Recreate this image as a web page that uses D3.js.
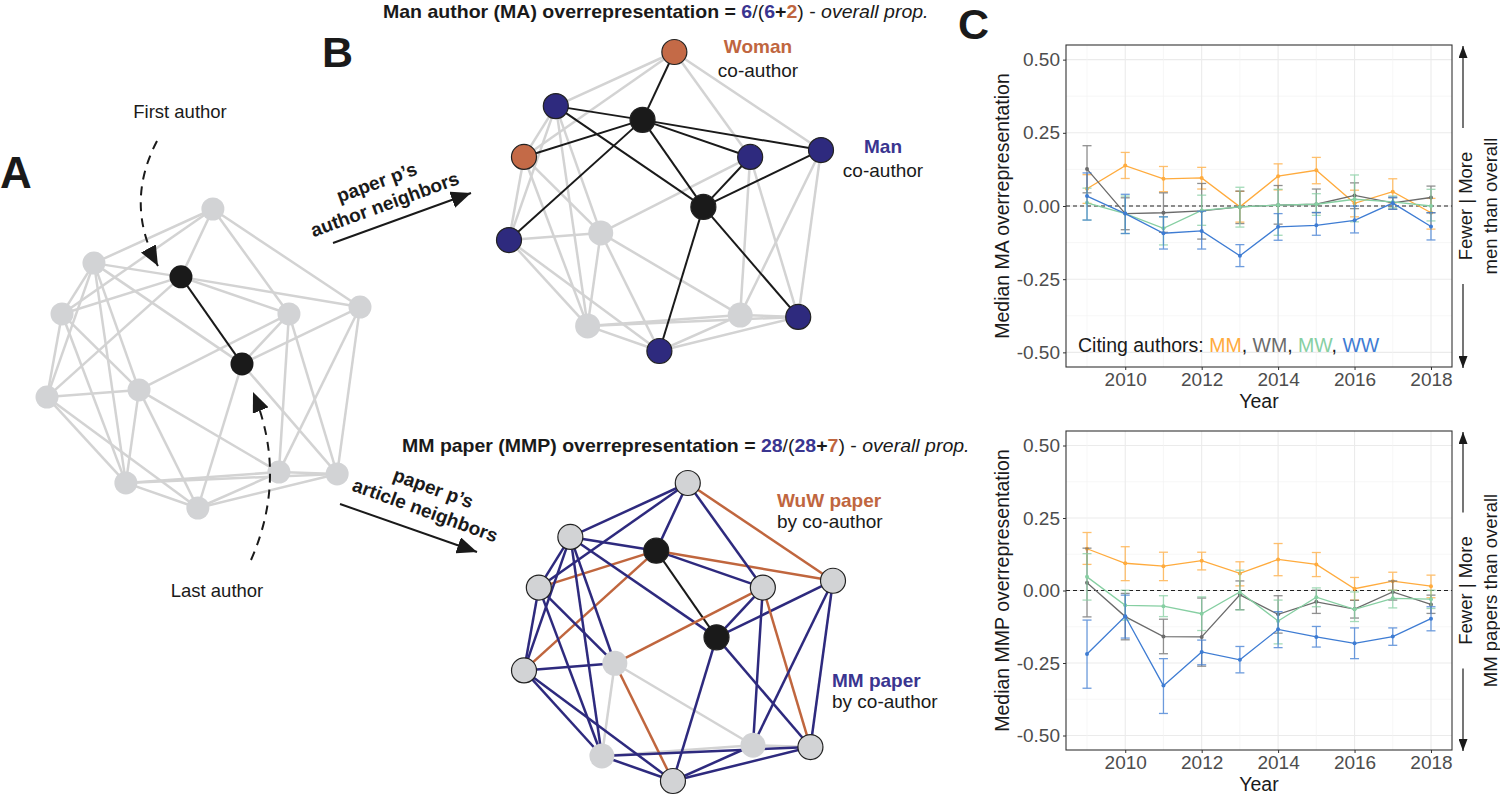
<!DOCTYPE html>
<html lang="en">
<head>
<meta charset="UTF-8" />
<title>Man author and MM paper overrepresentation</title>
<script src="https://cdn.jsdelivr.net/npm/d3@7"></script>
<style>
  body { margin: 0; background: #fff; }
  svg { display: block; font-family: "Liberation Sans", Arial, Helvetica, sans-serif; }
</style>
</head>
<body>
<div id="main_div"></div>
<script>
// ---------- panel C data ----------
const years = [2009, 2010, 2011, 2012, 2013, 2014, 2015, 2016, 2017, 2018];
const yTicks = [-0.5, -0.25, 0, 0.25, 0.5];
const xTicks = [2010, 2012, 2014, 2016, 2018];
const seriesNames = ["MM", "WM", "MW", "WW"];

// median MA overrepresentation (top) with error bar ends
const maMM   = [0.059, 0.138, 0.093, 0.096, -0.003, 0.102, 0.122, 0.009, 0.049, -0.023];
const maMMLo = [0.009, 0.094, 0.049, 0.058, -0.055, 0.055, 0.076, -0.037, 0.011, -0.079];
const maMMHi = [0.107, 0.183, 0.135, 0.132, 0.050, 0.144, 0.166, 0.054, 0.093, 0.026];
const maWM   = [0.126, -0.026, -0.023, -0.017, -0.003, 0.003, 0.006, 0.036, 0.011, 0.029];
const maWMLo = [0.045, -0.081, -0.090, -0.113, -0.060, -0.062, -0.023, -0.009, -0.011, -0.023];
const maWMHi = [0.206, 0.028, 0.045, 0.077, 0.051, 0.070, 0.058, 0.079, 0.028, 0.068];
const maMW   = [0.011, -0.026, -0.076, -0.015, -0.003, 0.003, 0.006, 0.023, 0.014, 0.000];
const maMWLo = [-0.048, -0.094, -0.133, -0.066, -0.072, -0.100, -0.032, -0.054, -0.006, -0.051];
const maMWHi = [0.061, 0.034, -0.037, 0.037, 0.064, 0.057, 0.042, 0.106, 0.034, 0.057];
const maWW   = [0.034, -0.026, -0.093, -0.085, -0.170, -0.071, -0.066, -0.049, 0.010, -0.070];
const maWWLo = [-0.048, -0.094, -0.147, -0.147, -0.207, -0.117, -0.100, -0.092, -0.011, -0.116];
const maWWHi = [0.113, 0.040, -0.037, -0.018, -0.132, -0.026, -0.022, 0.000, 0.030, -0.023];

// median MMP overrepresentation (bottom)
const mmpMM   = [0.144, 0.094, 0.084, 0.103, 0.059, 0.107, 0.090, 0.006, 0.032, 0.015];
const mmpMMLo = [0.090, 0.034, 0.034, 0.071, 0.016, 0.051, 0.048, -0.033, 0.001, -0.025];
const mmpMMHi = [0.200, 0.151, 0.132, 0.132, 0.099, 0.162, 0.131, 0.045, 0.063, 0.053];
const mmpWM   = [0.027, -0.090, -0.159, -0.160, -0.015, -0.082, -0.039, -0.064, -0.005, -0.048];
const mmpWMLo = [-0.091, -0.170, -0.218, -0.261, -0.066, -0.147, -0.079, -0.095, -0.033, -0.079];
const mmpWMHi = [0.146, -0.010, -0.099, -0.026, 0.033, -0.018, 0.001, -0.034, 0.033, -0.016];
const mmpMW   = [0.047, -0.051, -0.054, -0.080, -0.005, -0.105, -0.023, -0.065, -0.027, -0.030];
const mmpMWLo = [-0.033, -0.102, -0.090, -0.138, -0.067, -0.184, -0.056, -0.107, -0.060, -0.062];
const mmpMWHi = [0.127, 0.001, -0.018, -0.022, 0.070, -0.033, 0.009, -0.005, 0.001, 0.001];
const mmpWW   = [-0.219, -0.089, -0.328, -0.212, -0.239, -0.134, -0.160, -0.182, -0.159, -0.097];
const mmpWWLo = [-0.337, -0.164, -0.424, -0.256, -0.284, -0.197, -0.195, -0.235, -0.189, -0.139];
const mmpWWHi = [-0.102, -0.016, -0.235, -0.171, -0.193, -0.073, -0.124, -0.129, -0.129, -0.056];

// ---------- network data (panels A, B) ----------
// node layout in unit space, same graph drawn three times
const nodeU = [0.530, 0.150, 0.428, 0.048, 0.773, 1.000, 0.623, 0.000, 0.294, 0.252, 0.482, 0.741, 0.927];
const nodeV = [0.000, 0.181, 0.227, 0.351, 0.351, 0.328, 0.518, 0.629, 0.605, 0.916, 1.000, 0.880, 0.886];
// role of each node relative to paper p
const nodeRole = ["W", "M", "first", "W", "M", "M", "last", "M", "", "", "M", "", "M"];
const edges = [[2,0],[2,1],[2,3],[2,4],[2,5],[2,6],[2,7],[6,1],[6,4],[6,5],[6,10],[6,12],
               [0,1],[0,3],[0,4],[0,5],[1,3],[1,7],[1,8],[1,9],[3,7],[3,8],[3,9],[4,8],
               [4,11],[4,12],[5,11],[5,12],[7,8],[7,9],[7,10],[8,9],[8,10],[8,11],[9,10],
               [9,11],[9,12],[10,11],[10,12],[11,12]];
// paper type on each edge (for the article neighbor view)
const edgePaper = ["MM","MM","WuW","MM","WuW","FL","WuW","MM","MM","MM","MM","MM",
                   "MM","MM","MM","WuW","MM","MM","MM","MM","MM","MM","MM","WuW",
                   "MM","WuW","MM","MM","MM","MM","MM","","WuW","","MM",
                   "","MM","MM","MM",""];

const C = {
  navy: "#2e2a7e", rust: "#c0663e", grey: "#d3d3d3", node: "#d2d3d5", black: "#1a1a1a",
  MM: "#ffab3d", WM: "#6b6b6b", MW: "#86cfa2", WW: "#3e7cd3"
};

const svg = d3.select("#main_div").append("svg").attr("width", 1500).attr("height", 795);
const defs = svg.append("defs");

function addMarker(id, len, wid, color) {
  defs.append("marker")
      .attr("id", id)
      .attr("viewBox", "0 -5 10 10")
      .attr("refX", 10).attr("refY", 0)
      .attr("markerUnits", "userSpaceOnUse")
      .attr("markerWidth", len).attr("markerHeight", wid)
      .attr("preserveAspectRatio", "none")
      .attr("orient", "auto")
      .append("path").attr("d", "M0,-5L10,0L0,5Z").attr("fill", color);
}
addMarker("bigHead", 20, 17, C.black);
addMarker("smallHead", 12, 9, C.black);

// ---------- networks ----------
const views = [
  { x: [47, 360], y: [209, 508], r: 11.5, mode: "plain" },
  { x: [509, 821], y: [52, 351], r: 12.5, mode: "author" },
  { x: [524, 833], y: [483, 781], r: 12.5, mode: "article" }
];

function edgeColor(mode, i) {
  const [a, b] = edges[i];
  if (mode === "plain") return edgePaper[i] === "FL" ? C.black : C.grey;
  if (mode === "author") {
    const touch = ["first", "last"];
    return (touch.includes(nodeRole[a]) || touch.includes(nodeRole[b])) ? C.black : C.grey;
  }
  return { MM: C.navy, WuW: C.rust, FL: C.black, "": C.grey }[edgePaper[i]];
}

views.forEach(v => {
  const sx = d3.scaleLinear().domain([0, 1]).range(v.x);
  const sy = d3.scaleLinear().domain([0, 1]).range(v.y);
  const g = svg.append("g");
  const order = d3.range(edges.length).sort((i, j) => {
    const rank = c => (c === C.grey ? 0 : 1);
    return rank(edgeColor(v.mode, i)) - rank(edgeColor(v.mode, j));
  });
  g.selectAll("line.edge")
    .data(order)
    .enter().append("line")
    .attr("class", "edge")
    .attr("x1", i => sx(nodeU[edges[i][0]]))
    .attr("y1", i => sy(nodeV[edges[i][0]]))
    .attr("x2", i => sx(nodeU[edges[i][1]]))
    .attr("y2", i => sy(nodeV[edges[i][1]]))
    .attr("stroke", i => edgeColor(v.mode, i))
    .attr("stroke-width", i => edgeColor(v.mode, i) === C.black ? 2 : 2.5);

  g.selectAll("circle")
    .data(d3.range(nodeU.length))
    .enter().append("circle")
    .attr("cx", i => sx(nodeU[i]))
    .attr("cy", i => sy(nodeV[i]))
    .attr("r", v.r)
    .attr("fill", i => {
      const role = nodeRole[i];
      if (role === "first" || role === "last") return C.black;
      if (v.mode === "author" && role === "M") return C.navy;
      if (v.mode === "author" && role === "W") return "#c46a47";
      return C.node;
    })
    .attr("stroke", i => (v.mode !== "plain" && nodeRole[i] !== "") ? "#222" : "none")
    .attr("stroke-width", 1.2);
});

// ---------- network annotations ----------
const txt = (x, y, s, opts = {}) => svg.append("text")
  .attr("x", x).attr("y", y)
  .attr("font-size", opts.size || 19)
  .attr("font-weight", opts.weight || "normal")
  .attr("fill", opts.color || C.black)
  .attr("text-anchor", opts.anchor || "start")
  .text(s);

txt(0, 188, "A", { size: 44, weight: "bold" });
txt(322, 67, "B", { size: 43, weight: "bold" });
txt(958, 39, "C", { size: 43, weight: "bold" });

txt(180, 118, "First author", { size: 18.5, anchor: "middle" });
txt(217, 597, "Last author", { size: 18.5, anchor: "middle" });

svg.append("path")
  .attr("d", "M157,141 Q124,204 158,266")
  .attr("fill", "none").attr("stroke", C.black).attr("stroke-width", 2)
  .attr("stroke-dasharray", "9,7").attr("marker-end", "url(#bigHead)");
svg.append("path")
  .attr("d", "M251,560 Q288,476 253,392")
  .attr("fill", "none").attr("stroke", C.black).attr("stroke-width", 2)
  .attr("stroke-dasharray", "9,7").attr("marker-end", "url(#bigHead)");

// arrow labels
function arrowLabel(cx, cy, angle, lines, x1, y1, x2, y2) {
  const g = svg.append("g").attr("transform", `translate(${cx},${cy}) rotate(${angle})`);
  lines.forEach((s, k) => {
    g.append("text").attr("x", 0).attr("y", -6 + k * 23.5)
      .attr("text-anchor", "middle").attr("font-size", 19).attr("font-weight", "bold")
      .attr("fill", C.black).text(s);
  });
  svg.append("line").attr("x1", x1).attr("y1", y1).attr("x2", x2).attr("y2", y2)
    .attr("stroke", C.black).attr("stroke-width", 2).attr("marker-end", "url(#bigHead)");
}
arrowLabel(381, 194, -20, ["paper p\u2019s", "author neighbors"], 333, 243, 471, 193);
arrowLabel(429, 500, 20, ["paper p\u2019s", "article neighbors"], 340, 504, 477, 552);

// titles with coloured counts
function richTitle(x, y, width, parts) {
  const t = svg.append("text").attr("font-size", 18).attr("fill", C.black);
  parts.forEach(p => {
    t.append("tspan").text(p.t)
      .attr("fill", p.c || C.black)
      .attr("font-weight", p.b === false ? "normal" : "bold")
      .attr("font-style", p.i ? "italic" : "normal");
  });
  const k = width / t.node().getComputedTextLength();
  t.attr("transform", `translate(${x},${y}) scale(${k},1)`);
}
const titleBlue = "#3a3590", titleRust = "#c0663f";
richTitle(383, 18, 546, [
  { t: "Man author (MA) overrepresentation = " }, { t: "6", c: titleBlue }, { t: "/(", b: false },
  { t: "6", c: titleBlue }, { t: "+" }, { t: "2", c: titleRust }, { t: ") - ", b: false },
  { t: "overall prop.", b: false, i: true }
]);
richTitle(402, 452, 568, [
  { t: "MM paper (MMP) overrepresentation = " }, { t: "28", c: titleBlue }, { t: "/(", b: false },
  { t: "28", c: titleBlue }, { t: "+" }, { t: "7", c: titleRust }, { t: ") - ", b: false },
  { t: "overall prop.", b: false, i: true }
]);

txt(758, 53, "Woman", { weight: "bold", color: "#c0663f", anchor: "middle" });
txt(758, 77, "co-author", { anchor: "middle" });
txt(883, 153, "Man", { weight: "bold", color: "#3a3590", anchor: "middle" });
txt(883, 177, "co-author", { anchor: "middle" });
txt(777, 507, "WuW paper", { weight: "bold", color: "#c0663f" });
txt(777, 528, "by co-author");
txt(832, 687, "MM paper", { weight: "bold", color: "#3a3590" });
txt(832, 708, "by co-author");

// ---------- panel C ----------
function drawTrend(cfg) {
  const x = d3.scaleLinear().domain([2008.45, 2018.55]).range([1066, 1452]);
  const y = d3.scaleLinear().domain([-0.55, 0.55]).range([cfg.bottom, cfg.top]);
  const g = svg.append("g");
  const mid = (cfg.top + cfg.bottom) / 2;

  // grid
  const minorY = yTicks.slice(1).map((t, i) => (t + yTicks[i]) / 2);
  g.selectAll("line.gy").data(yTicks.concat(minorY)).enter().append("line")
    .attr("x1", 1066).attr("x2", 1452).attr("y1", d => y(d)).attr("y2", d => y(d))
    .attr("stroke", (d, i) => i < yTicks.length ? "#ebebeb" : "#f3f3f3")
    .attr("stroke-width", (d, i) => i < yTicks.length ? 1.1 : 0.7);
  g.selectAll("line.gx").data(years).enter().append("line")
    .attr("y1", cfg.top).attr("y2", cfg.bottom).attr("x1", d => x(d)).attr("x2", d => x(d))
    .attr("stroke", d => xTicks.includes(d) ? "#ebebeb" : "#f3f3f3")
    .attr("stroke-width", d => xTicks.includes(d) ? 1.1 : 0.7);

  // zero line
  g.append("line").attr("x1", 1066).attr("x2", 1452).attr("y1", y(0)).attr("y2", y(0))
    .attr("stroke", "#222").attr("stroke-width", 1.2).attr("stroke-dasharray", "4,3");

  // series
  cfg.series.forEach(s => {
    const col = C[s.name];
    const pts = years.map((yr, i) => ({ yr, v: s.v[i], lo: s.lo[i], hi: s.hi[i] }));
    const eb = g.append("g").attr("stroke", col).attr("stroke-width", 1.3).attr("opacity", 0.75);
    eb.selectAll("line.v").data(pts).enter().append("line")
      .attr("x1", d => x(d.yr)).attr("x2", d => x(d.yr)).attr("y1", d => y(d.lo)).attr("y2", d => y(d.hi));
    eb.selectAll("line.lo").data(pts).enter().append("line")
      .attr("x1", d => x(d.yr) - 4.5).attr("x2", d => x(d.yr) + 4.5).attr("y1", d => y(d.lo)).attr("y2", d => y(d.lo));
    eb.selectAll("line.hi").data(pts).enter().append("line")
      .attr("x1", d => x(d.yr) - 4.5).attr("x2", d => x(d.yr) + 4.5).attr("y1", d => y(d.hi)).attr("y2", d => y(d.hi));
    g.append("path").datum(pts)
      .attr("fill", "none").attr("stroke", col).attr("stroke-width", 1.3)
      .attr("d", d3.line().x(d => x(d.yr)).y(d => y(d.v)));
    g.selectAll(null).data(pts).enter().append("circle")
      .attr("cx", d => x(d.yr)).attr("cy", d => y(d.v)).attr("r", 2).attr("fill", col);
  });

  // border
  g.append("rect").attr("x", 1066).attr("y", cfg.top).attr("width", 1452 - 1066)
    .attr("height", cfg.bottom - cfg.top).attr("fill", "none").attr("stroke", "#333").attr("stroke-width", 1.1);

  // axes
  const ay = g.append("g").attr("transform", "translate(1066,0)")
    .call(d3.axisLeft(y).tickValues(yTicks).tickFormat(d => d.toFixed(2)).tickSize(3).tickPadding(3));
  const ax = g.append("g").attr("transform", `translate(0,${cfg.bottom})`)
    .call(d3.axisBottom(x).tickValues(xTicks).tickFormat(d3.format("d")).tickSize(3).tickPadding(3));
  [ay, ax].forEach(a => {
    a.select(".domain").remove();
    a.selectAll(".tick line").attr("stroke", "#333");
    a.selectAll("text").attr("font-size", 19).attr("fill", "#4d4d4d")
      .attr("font-family", "'Liberation Sans', Arial, sans-serif");
  });

  g.append("text").attr("transform", `translate(1009,${mid}) rotate(-90)`)
    .attr("text-anchor", "middle").attr("font-size", 19.5).attr("fill", C.black).text(cfg.ylabel);
  g.append("text").attr("x", 1259).attr("y", cfg.bottom + 41)
    .attr("text-anchor", "middle").attr("font-size", 19.5).attr("fill", C.black).text("Year");

  // right side direction arrows
  g.append("line").attr("x1", 1463).attr("x2", 1463).attr("y1", mid - 78).attr("y2", cfg.top + 1)
    .attr("stroke", C.black).attr("stroke-width", 1.2).attr("marker-end", "url(#smallHead)");
  g.append("line").attr("x1", 1463).attr("x2", 1463).attr("y1", mid + 78).attr("y2", cfg.bottom + 1)
    .attr("stroke", C.black).attr("stroke-width", 1.2).attr("marker-end", "url(#smallHead)");
  g.append("text").attr("transform", `translate(1472,${mid}) rotate(-90)`)
    .attr("text-anchor", "middle").attr("font-size", 18.5).attr("fill", C.black).text("Fewer | More");
  g.append("text").attr("transform", `translate(1497,${mid}) rotate(-90)`)
    .attr("text-anchor", "middle").attr("font-size", 18.5).attr("fill", C.black).text(cfg.rightLabel);

  return g;
}

const topPanel = drawTrend({
  top: 45, bottom: 367, ylabel: "Median MA overrepresentation", rightLabel: "men than overall",
  series: [
    { name: "MM", v: maMM, lo: maMMLo, hi: maMMHi },
    { name: "WM", v: maWM, lo: maWMLo, hi: maWMHi },
    { name: "MW", v: maMW, lo: maMWLo, hi: maMWHi },
    { name: "WW", v: maWW, lo: maWWLo, hi: maWWHi }
  ]
});
drawTrend({
  top: 431, bottom: 750, ylabel: "Median MMP overrepresentation", rightLabel: "MM papers than overall",
  series: [
    { name: "MM", v: mmpMM, lo: mmpMMLo, hi: mmpMMHi },
    { name: "WM", v: mmpWM, lo: mmpWMLo, hi: mmpWMHi },
    { name: "MW", v: mmpMW, lo: mmpMWLo, hi: mmpMWHi },
    { name: "WW", v: mmpWW, lo: mmpWWLo, hi: mmpWWHi }
  ]
});

// legend inside top panel
const leg = topPanel.append("text").attr("x", 1078).attr("y", 352).attr("font-size", 19.5).attr("fill", C.black);
leg.append("tspan").text("Citing authors: ");
seriesNames.forEach((n, i) => {
  leg.append("tspan").attr("fill", C[n]).text(n);
  if (i < seriesNames.length - 1) leg.append("tspan").attr("fill", C.black).text(", ");
});
</script>
</body>
</html>
